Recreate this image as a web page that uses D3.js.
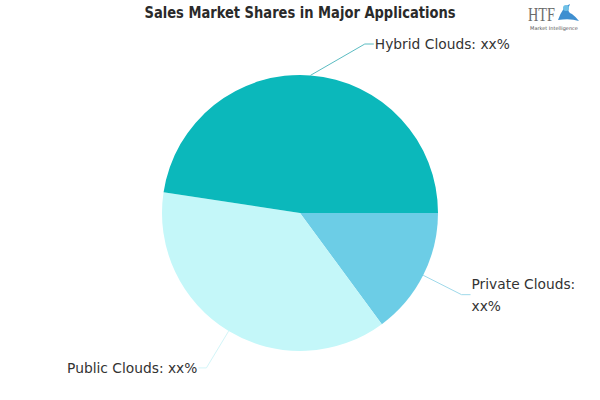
<!DOCTYPE html>
<html><head><meta charset="utf-8">
<script src="https://cdn.jsdelivr.net/npm/d3@7"></script>
<style>body{margin:0;background:#fff}svg{display:block}</style>
</head><body><svg id="c" width="600" height="400"></svg>
<script>
const title = "Sales Market Shares in Major Applications";
const categories = ["Private Clouds", "Public Clouds", "Hybrid Clouds"];
const values = [14.9, 37.5, 47.6];
const valueLabels = ["xx%", "xx%", "xx%"];
const colors = ["#6ccde6", "#c4f7f9", "#0bb8bb"];
const lineColors = ["#9fd9ea", "#d3f5f8", "#5bbcc2"];

const svg = d3.select("#c");
const W = 600, H = 400;
const cx = 300, cy = 213, R = 138;

svg.append("text").attr("x", 300).attr("y", 17.5).attr("text-anchor", "middle")
  .attr("font-family", "DejaVu Sans Condensed, DejaVu Sans").attr("font-weight", "bold")
  .attr("font-size", 15.5).attr("fill", "#2a2a2a").attr("textLength", 311)
  .attr("lengthAdjust", "spacingAndGlyphs").text(title);

// logo
const logo = svg.append("g");
logo.append("text").attr("x", 528).attr("y", 21).attr("font-family", "Liberation Serif")
  .attr("font-size", 19).attr("fill", "#6b6b6b").attr("textLength", 27).attr("lengthAdjust","spacingAndGlyphs").text("HTF");
logo.append("path").attr("d", "M558,20 Q563,6 570,4 Q566,12 572,14 Q576,17 579,21 Q570,18 558,20 Z").attr("fill", "#3f8fd0");
logo.append("circle").attr("cx", 566).attr("cy", 8).attr("r", 3).attr("fill", "#6fc0e6");
logo.append("text").attr("x", 554).attr("y", 30).attr("text-anchor", "middle")
  .attr("font-family", "DejaVu Sans").attr("font-size", 5).attr("fill", "#555").text("Market Intelligence");

const pie = d3.pie().sort(null).value(d => d).startAngle(Math.PI / 2).endAngle(Math.PI / 2 + 2 * Math.PI);
const arcs = pie(values);
const arc = d3.arc().innerRadius(0).outerRadius(R);

const g = svg.append("g").attr("transform", `translate(${cx},${cy})`);
g.selectAll("path.slice").data(arcs).enter().append("path").attr("class", "slice")
  .attr("d", arc).attr("fill", (d, i) => colors[i]);

// labels
const R2 = 181, topLimit = 44 - cy;
arcs.forEach((d, i) => {
  const mid = (d.startAngle + d.endAngle) / 2;
  const sx = Math.sin(mid) * R, sy = -Math.cos(mid) * R;
  let ey = -Math.cos(mid) * R2;
  let right = Math.sin(mid) >= 0;
  if (ey < topLimit) ey = topLimit;
  let ex = (right ? 1 : -1) * Math.sqrt(Math.max(0, R2 * R2 - ey * ey));
  const hx = ex + (right ? 9 : -8);
  g.append("polyline").attr("points", [[sx, sy], [ex, ey], [hx, ey]].map(p => p.join(",")).join(" "))
    .attr("fill", "none").attr("stroke", lineColors[i]).attr("stroke-width", 1);
  const t = g.append("text").attr("font-family", "DejaVu Sans").attr("font-size", 13.8)
    .attr("fill", "#333").attr("text-anchor", right ? "start" : "end");
  const tx = hx + (right ? 1 : -1);
  const full = categories[i] + ": " + valueLabels[i];
  if (right && cx + tx + full.length * 7.4 > W - 5) {
    t.append("tspan").attr("x", tx).attr("y", ey - 11 + 5).text(categories[i] + ":");
    t.append("tspan").attr("x", tx).attr("y", ey + 11 + 5).text(valueLabels[i]);
  } else {
    t.append("tspan").attr("x", tx).attr("y", ey + 5).text(full);
  }
});
</script></body></html>
